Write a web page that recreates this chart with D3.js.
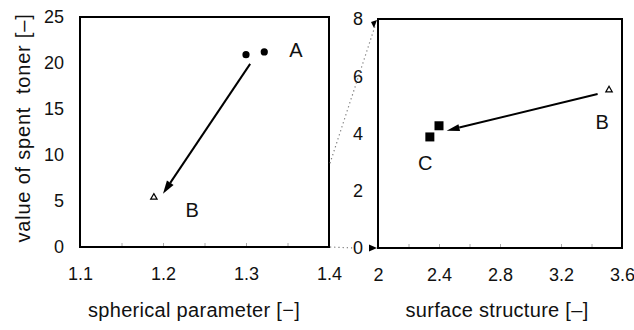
<!DOCTYPE html>
<html>
<head>
<meta charset="utf-8">
<script src="https://cdn.jsdelivr.net/npm/d3@7"></script>
<style>
  body { margin: 0; background: #fff; }
  text { font-family: "Liberation Sans", Arial, sans-serif; fill: #111; }
</style>
</head>
<body>
<script>
// ---- data ----
var leftXTicks = [1.1, 1.2, 1.3, 1.4];
var leftYTicks = [0, 5, 10, 15, 20, 25];
var rightXTicks = [2, 2.4, 2.8, 3.2, 3.6];
var rightYTicks = [0, 2, 4, 6, 8];

// spherical parameter vs spent toner
var toneA_x = [1.300, 1.322];
var toneA_y = [20.9, 21.2];
var toneB_x = [1.189];
var toneB_y = [5.4];

// surface structure vs spent toner
var surfB_x = [3.515];
var surfB_y = [5.52];
var surfC_x = [2.34, 2.40];
var surfC_y = [3.88, 4.27];

// arrows [x0, y0, x1, y1]
var leftArrow = [1.305, 19.9, 1.2, 5.8];
var rightArrow = [3.44, 5.38, 2.45, 4.1];

// group labels
var leftLabels = [{t: "A", x: 1.36, y: 21.4}, {t: "B", x: 1.235, y: 4.0}];
var rightLabels = [{t: "B", x: 3.47, y: 4.4}, {t: "C", x: 2.31, y: 2.97}];

var W = 634, H = 330;
var FONT = "Liberation Sans, Arial, sans-serif";

var svg = d3.select("body").append("svg")
  .attr("width", W)
  .attr("height", H);

// scales
var lx = d3.scaleLinear().domain([1.1, 1.4]).range([80, 329]);
var ly = d3.scaleLinear().domain([0, 25]).range([247, 17]);
var rx = d3.scaleLinear().domain([2, 3.6]).range([378, 622]);
var ry = d3.scaleLinear().domain([0, 8]).range([248, 19]);

function drawFrame(xs, ys, xt, yt, xfmt, minorX, ypad) {
  var g = svg.append("g");

  // faint inner ticks
  g.append("g")
    .attr("transform", "translate(0," + ys.range()[0] + ")")
    .call(d3.axisBottom(xs).tickValues(minorX).tickSize(-4).tickFormat(""))
    .call(function(a) { a.select(".domain").remove(); a.selectAll("line").attr("stroke", "#aaa"); });

  // tick labels
  g.append("g")
    .attr("transform", "translate(0," + ys.range()[0] + ")")
    .call(d3.axisBottom(xs).tickValues(xt).tickSize(0).tickPadding(20).tickFormat(xfmt))
    .call(function(a) {
      a.select(".domain").remove();
      a.selectAll("text").attr("font-size", 18).attr("font-family", FONT).attr("fill", "#111");
    });

  g.append("g")
    .attr("transform", "translate(" + xs.range()[0] + ",0)")
    .call(d3.axisLeft(ys).tickValues(yt).tickSize(0).tickPadding(ypad).tickFormat(d3.format("d")))
    .call(function(a) {
      a.select(".domain").remove();
      a.selectAll("text").attr("font-size", 18).attr("font-family", FONT).attr("fill", "#111");
    });

  // box
  g.append("rect")
    .attr("x", xs.range()[0])
    .attr("y", ys.range()[1])
    .attr("width", xs.range()[1] - xs.range()[0])
    .attr("height", ys.range()[0] - ys.range()[1])
    .attr("fill", "none")
    .attr("stroke", "#000")
    .attr("stroke-width", 2);
  return g;
}

drawFrame(lx, ly, leftXTicks, leftYTicks, d3.format(".1f"), [1.15, 1.2, 1.25, 1.3, 1.35], 16);
drawFrame(rx, ry, rightXTicks, rightYTicks, function(d) { return d === 2 ? "2" : d3.format(".1f")(d); },
  [2.2, 2.4, 2.6, 2.8, 3.2, 3.4], 15);

// axis titles
svg.append("text")
  .attr("x", 194).attr("y", 317)
  .attr("text-anchor", "middle")
  .attr("font-size", 20)
  .attr("letter-spacing", 0.3)
  .text("spherical parameter [\u2212]");

svg.append("text")
  .attr("x", 497).attr("y", 317)
  .attr("text-anchor", "middle")
  .attr("font-size", 20)
  .attr("letter-spacing", 0.3)
  .text("surface structure [\u2013]");

svg.append("text")
  .attr("transform", "translate(30,128) rotate(-90)")
  .attr("text-anchor", "middle")
  .attr("font-size", 20)
  .attr("letter-spacing", 0.8)
  .attr("xml:space", "preserve")
  .text("value of spent  toner [\u2013]");

// arrow helper: line with elongated filled head
function arrow(x0, y0, x1, y1, len, half) {
  var dx = x1 - x0, dy = y1 - y0;
  var L = Math.sqrt(dx * dx + dy * dy);
  var ux = dx / L, uy = dy / L;
  var bx = x1 - ux * len, by = y1 - uy * len;
  svg.append("line")
    .attr("x1", x0).attr("y1", y0).attr("x2", bx).attr("y2", by)
    .attr("stroke", "#000").attr("stroke-width", 2);
  svg.append("path")
    .attr("d", "M" + x1 + "," + y1 +
      "L" + (bx - uy * half) + "," + (by + ux * half) +
      "L" + (bx + uy * half) + "," + (by - ux * half) + "Z")
    .attr("fill", "#000");
}

arrow(lx(leftArrow[0]), ly(leftArrow[1]), lx(leftArrow[2]), ly(leftArrow[3]), 13, 4);
arrow(rx(rightArrow[0]), ry(rightArrow[1]), rx(rightArrow[2]), ry(rightArrow[3]), 13, 3.5);

// markers
svg.selectAll("circle.a")
  .data(d3.zip(toneA_x, toneA_y))
  .enter().append("circle")
    .attr("cx", function(d) { return lx(d[0]); })
    .attr("cy", function(d) { return ly(d[1]); })
    .attr("r", 3.6)
    .attr("fill", "#000");

var tri = d3.symbol().type(d3.symbolTriangle).size(18);

svg.selectAll("path.bl")
  .data(d3.zip(toneB_x, toneB_y))
  .enter().append("path")
    .attr("d", tri)
    .attr("transform", function(d) { return "translate(" + lx(d[0]) + "," + ly(d[1]) + ")"; })
    .attr("fill", "#fff").attr("stroke", "#000").attr("stroke-width", 1.2);

svg.selectAll("path.br")
  .data(d3.zip(surfB_x, surfB_y))
  .enter().append("path")
    .attr("d", tri)
    .attr("transform", function(d) { return "translate(" + rx(d[0]) + "," + ry(d[1]) + ")"; })
    .attr("fill", "#fff").attr("stroke", "#000").attr("stroke-width", 1.2);

svg.selectAll("rect.c")
  .data(d3.zip(surfC_x, surfC_y))
  .enter().append("rect")
    .attr("x", function(d) { return rx(d[0]) - 4.5; })
    .attr("y", function(d) { return ry(d[1]) - 4.5; })
    .attr("width", 9).attr("height", 9)
    .attr("fill", "#000");

// group letters
svg.selectAll("text.ll")
  .data(leftLabels)
  .enter().append("text")
    .attr("x", function(d) { return lx(d.x); })
    .attr("y", function(d) { return ly(d.y); })
    .attr("dy", "0.36em")
    .attr("text-anchor", "middle")
    .attr("font-size", 20)
    .text(function(d) { return d.t; });

svg.selectAll("text.rl")
  .data(rightLabels)
  .enter().append("text")
    .attr("x", function(d) { return rx(d.x); })
    .attr("y", function(d) { return ry(d.y); })
    .attr("dy", "0.36em")
    .attr("text-anchor", "middle")
    .attr("font-size", 20)
    .text(function(d) { return d.t; });

// dotted zoom guides between panels
function dotted(x0, y0, x1, y1) {
  svg.append("line")
    .attr("x1", x0).attr("y1", y0).attr("x2", x1).attr("y2", y1)
    .attr("stroke", "#777").attr("stroke-width", 1.2)
    .attr("stroke-dasharray", "1.2,3");
}
dotted(lx(1.4) + 1, ly(9.1), rx(2) - 3, ry(7.75));
dotted(lx(1.4) + 1, ly(0), rx(2) - 24, ry(0));

// small heads on the guides
svg.append("path")
  .attr("d", "M" + (rx(2) - 1) + "," + (ry(8) + 1) + "l-6,2l3,6z")
  .attr("fill", "#000");
svg.append("path")
  .attr("d", "M" + (rx(2) - 1) + "," + ry(0) + "l-8,-3.5l0,7z")
  .attr("fill", "#000");
</script>
</body>
</html>
